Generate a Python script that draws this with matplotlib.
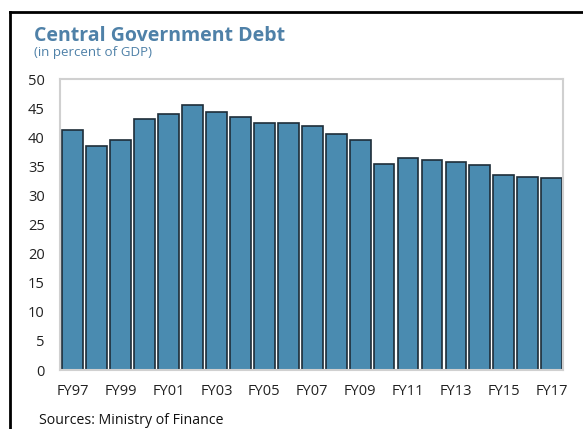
import matplotlib
matplotlib.use("Agg")
import matplotlib.pyplot as plt
from matplotlib.lines import Line2D

categories = ["FY97", "FY98", "FY99", "FY00", "FY01", "FY02", "FY03", "FY04", "FY05", "FY06",
              "FY07", "FY08", "FY09", "FY10", "FY11", "FY12", "FY13", "FY14", "FY15", "FY16", "FY17"]
debt = [41.2, 38.6, 39.6, 43.1, 44.0, 45.6, 44.4, 43.5, 42.4, 42.4,
        41.9, 40.6, 39.5, 35.4, 36.5, 36.2, 35.8, 35.2, 33.6, 33.2, 33.0]
yticks = [0, 5, 10, 15, 20, 25, 30, 35, 40, 45, 50]

plt.rcParams['font.family'] = ['Open Sans', 'DejaVu Sans']

fig = plt.figure(figsize=(5.83, 4.29), dpi=100)
ax = fig.add_axes([60/583, 1-370/429, (563-60)/583, (370-79.3)/429])

x = list(range(len(categories)))
ax.bar(x, debt, width=0.87, color="#4a8bb0", edgecolor="#1e2d38", linewidth=1.2)

ax.set_ylim(0, 50)
ax.set_xlim(-0.53, 20.47)
ax.set_yticks(yticks)
ax.set_yticklabels([str(t) for t in yticks], fontsize=10.5, color="#222222")
ax.set_xticks(x[::2])
ax.set_xticklabels(categories[::2], fontsize=10.5, color="#222222")
ax.tick_params(axis="both", length=0)
ax.tick_params(axis="y", pad=11)
ax.tick_params(axis="x", pad=10)
for s in ax.spines.values():
    s.set_color("#d0d0d0")
    s.set_linewidth(1.5)

fig.text(34/583, 1-41/429, "Central Government Debt", fontsize=14, fontweight="bold",
         color="#4f81a8", ha="left", va="baseline")
fig.text(34/583, 1-56/429, "(in percent of GDP)", fontsize=9.6, color="#4f81a8",
         ha="left", va="baseline")
fig.text(39/583, 1-424.5/429, "Sources: Ministry of Finance", fontsize=10.2, color="#111111",
         ha="left", va="baseline")

# outer border lines (top and left)
fig.add_artist(Line2D([10/583, 1], [1-12/429, 1-12/429], color="black", linewidth=2,
                      transform=fig.transFigure))
fig.add_artist(Line2D([10/583, 10/583], [0, 1-12/429], color="black", linewidth=2,
                      transform=fig.transFigure))

fig.savefig("out.png", dpi=100)
